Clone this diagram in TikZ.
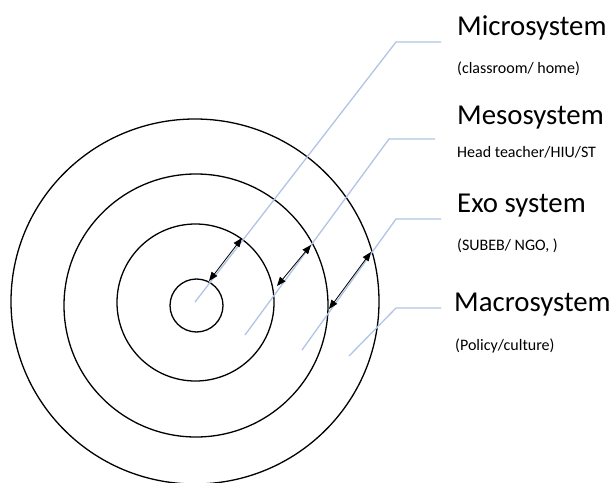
\documentclass[tikz,border=0pt]{standalone}
\usepackage{fontspec}
\setmainfont{Carlito}
\usetikzlibrary{arrows.meta}
\definecolor{leaderblue}{RGB}{176,196,228}
\begin{document}
\begin{tikzpicture}[x=1bp,y=-1bp,
  ring/.style={draw=black,line width=1.3bp},
  leader/.style={draw=leaderblue,line width=1.3bp},
  dblarrow/.style={draw=black,line width=0.8bp,{Triangle[length=9bp,width=7bp]}-{Triangle[length=9bp,width=7bp]}},
  title/.style={anchor=base west,inner sep=0pt,font=\fontsize{28.8bp}{30bp}\selectfont},
  sub/.style={anchor=base west,inner sep=0pt,font=\fontsize{16bp}{18bp}\selectfont}]
\useasboundingbox (0,0) rectangle (615,483);

% rings
\draw[ring] (195,301.5) ellipse [x radius=184bp, y radius=182.5bp];
\draw[ring] (196,305.5) ellipse [x radius=132bp, y radius=131.5bp];
\draw[ring] (195.5,302.5) ellipse [x radius=78.5bp, y radius=78.5bp];
\draw[ring] (196.5,305.5) ellipse [x radius=26.5bp, y radius=26.5bp];

% labels
\node[title] (micro) at (457,36) {Microsystem};
\node[sub] (microsub) at (457,74) {(classroom/ home)};
\node[title] (meso) at (457,125) {Mesosystem};
\node[sub] (mesosub) at (457,158) {Head teacher/HIU/ST};
\node[title] (exo) at (457,213) {Exo system};
\node[sub] (exosub) at (457,250) {(SUBEB/ NGO, )};
\node[title] (macro) at (454,311) {Macrosystem};
\node[sub] (macrosub) at (455,350) {(Policy/culture)};

% leader lines
\coordinate (l1s) at (195,302); \coordinate (l1c) at (396,42);  \coordinate (l1e) at (441,42);
\coordinate (l2s) at (245,335); \coordinate (l2c) at (389,139); \coordinate (l2e) at (435,139);
\coordinate (l3s) at (302,350); \coordinate (l3c) at (396,219); \coordinate (l3e) at (441,219);
\coordinate (l4s) at (349,356); \coordinate (l4c) at (396,308); \coordinate (l4e) at (441,308);
\draw[leader] (l1s) -- (l1c) -- (l1e);
\draw[leader] (l2s) -- (l2c) -- (l2e);
\draw[leader] (l3s) -- (l3c) -- (l3e);
\draw[leader] (l4s) -- (l4c) -- (l4e);

% double arrows between rings
\coordinate (a1o) at (242,238); \coordinate (a1i) at (209,281);
\coordinate (a2o) at (311,245); \coordinate (a2i) at (277,286);
\coordinate (a3o) at (371,252); \coordinate (a3i) at (329,309);
\draw[dblarrow] (a1o) -- (a1i);
\draw[dblarrow] (a2o) -- (a2i);
\draw[dblarrow] (a3o) -- (a3i);
\end{tikzpicture}
\end{document}
